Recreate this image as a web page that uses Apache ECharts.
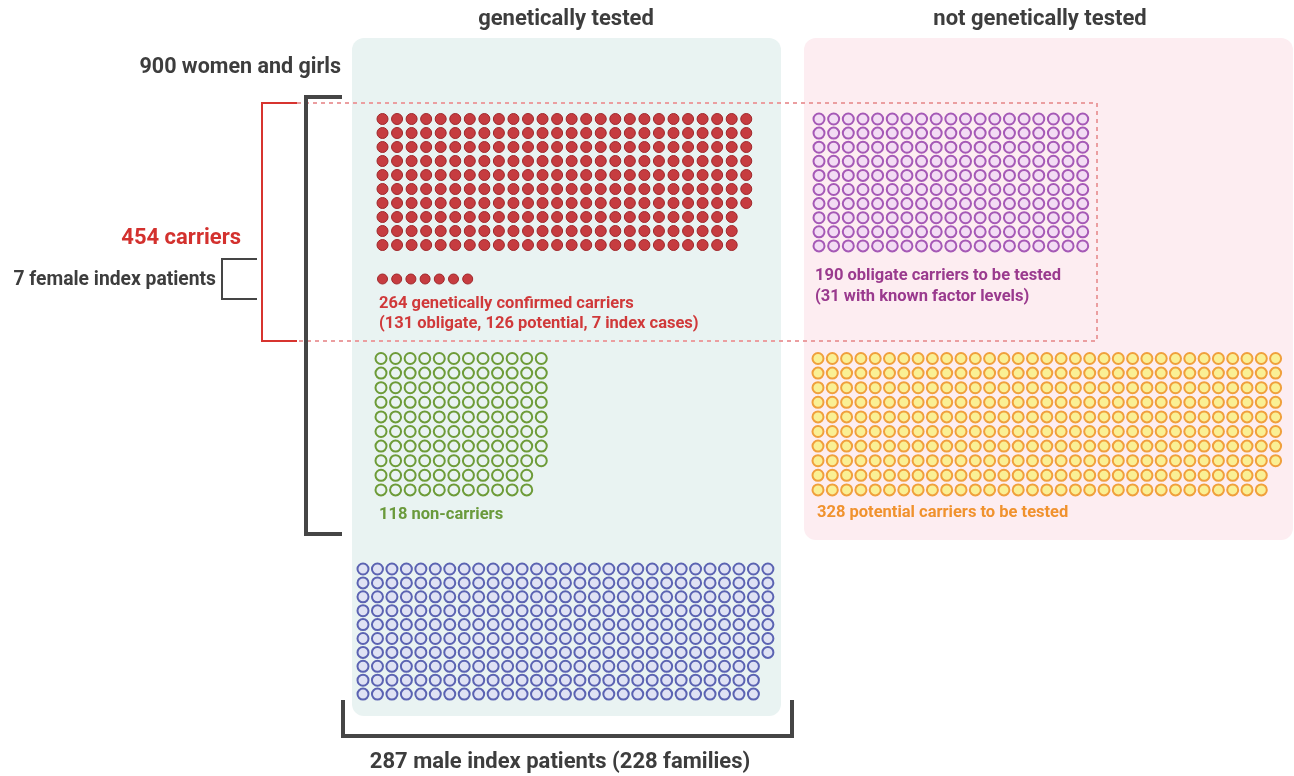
<!DOCTYPE html>
<html>
<head>
<meta charset="utf-8">
<title>Carriers overview</title>
<script src="https://cdn.jsdelivr.net/npm/echarts@6/dist/echarts.min.js"></script>
<style>
  html, body { margin: 0; padding: 0; background: #ffffff; }
  #chart { width: 1294px; height: 776px; }
</style>
</head>
<body>
<div id="chart"></div>
<script>
// Données : une case par personne
const groupNames = ['confirmed', 'femaleIndex', 'obligate', 'nonCarriers', 'potential', 'maleIndex'];
const groupCounts = [257, 7, 190, 118, 328, 287];
const groupRows = [10, 1, 10, 10, 10, 10];

const labelTexts = {
    tested: 'genetically tested',
    notTested: 'not genetically tested',
    women: '900 women and girls',
    carriers: '454 carriers',
    femaleIdx: '7 female index patients',
    confirmed1: '264 genetically confirmed carriers',
    confirmed2: '(131 obligate, 126 potential, 7 index cases)',
    obligate1: '190 obligate carriers to be tested',
    obligate2: '(31 with known factor levels)',
    nonCarriers: '118 non-carriers',
    potential: '328 potential carriers to be tested',
    male: '287 male index patients (228 families)'
};

// Mise en page de chaque bloc (origine du premier point, pas entre points)
const layout = {
    confirmed:   { x: 382.5, y: 119,   dx: 14.55, dy: 14.0, size: 11, fill: '#c63c40', stroke: '#a0272b', bw: 1 },
    femaleIndex: { x: 382.5, y: 279,   dx: 14.2,  dy: 14.0, size: 10, fill: '#c63c40', stroke: '#a0272b', bw: 1 },
    obligate:    { x: 819,   y: 119,   dx: 14.65, dy: 14.1, size: 11, fill: '#f3dcf4', stroke: '#a559b6', bw: 2 },
    nonCarriers: { x: 381,   y: 358.5, dx: 14.57, dy: 14.6, size: 11, fill: '#e9f3f2', stroke: '#6d9b38', bw: 2 },
    potential:   { x: 818,   y: 358.5, dx: 14.3,  dy: 14.6, size: 11, fill: '#faf095', stroke: '#f0a03c', bw: 2 },
    maleIndex:   { x: 363,   y: 569,   dx: 14.46, dy: 13.9, size: 11, fill: '#dfe2f4', stroke: '#5b63b2', bw: 2 }
};

// Répartir n points sur un nombre fixe de lignes (les premières lignes reçoivent le reste)
function buildDots(name, count, rows) {
    const l = layout[name];
    const base = Math.floor(count / rows);
    const extra = count % rows;
    const pts = [];
    for (let r = 0; r < rows; r++) {
        const len = r < extra ? base + 1 : base;
        for (let c = 0; c < len; c++) {
            pts.push([l.x + c * l.dx, l.y + r * l.dy]);
        }
    }
    return pts;
}

const chartDom = document.getElementById('chart');
const chart = echarts.init(chartDom, null, { renderer: 'canvas' });

const FONT = 'Roboto, "Noto Sans", sans-serif';
const DARK = '#3d3d3d';

function txt(text, x, y, opts) {
    return {
        type: 'text',
        x: x,
        y: y,
        z: 50,
        style: Object.assign({
            text: text,
            fontFamily: FONT,
            fontWeight: 'bold',
            fontSize: 16.5,
            fill: DARK,
            textAlign: 'left',
            textVerticalAlign: 'middle'
        }, opts || {})
    };
}

function line(points, color, width, dash) {
    return {
        type: 'polyline',
        z: 20,
        shape: { points: points },
        style: { stroke: color, lineWidth: width, fill: null, lineDash: dash || null }
    };
}

const series = groupNames.map(function (name, i) {
    const l = layout[name];
    return {
        name: name,
        type: 'scatter',
        z: 10,
        silent: true,
        symbol: 'circle',
        symbolSize: l.size,
        itemStyle: { color: l.fill, borderColor: l.stroke, borderWidth: l.bw, opacity: 1 },
        data: buildDots(name, groupCounts[i], groupRows[i])
    };
});

const option = {
    animation: false,
    backgroundColor: '#ffffff',
    grid: { left: 0, right: 0, top: 0, bottom: 0 },
    xAxis: { type: 'value', min: 0, max: 1294, show: false },
    yAxis: { type: 'value', min: 0, max: 776, inverse: true, show: false },
    graphic: [
        // panneaux de fond
        { type: 'rect', z: -10, shape: { x: 352, y: 38, width: 429, height: 678, r: 12 }, style: { fill: '#e9f3f2' } },
        { type: 'rect', z: -10, shape: { x: 804, y: 38, width: 489, height: 502, r: 12 }, style: { fill: '#fdedf1' } },

        // rectangle pointillé des porteurs
        line([[297, 103], [1097, 103], [1097, 341], [297, 341]], '#eb9ea0', 2, [4, 4]),

        // accolade rouge
        line([[297, 103], [262, 103], [262, 341], [297, 341]], '#d7342f', 2),
        // accolade noire (femmes)
        line([[342, 97], [306, 97], [306, 534], [342, 534]], '#454545', 4),
        // petite accolade (index femmes)
        line([[257, 259], [222, 259], [222, 299], [257, 299]], '#454545', 2),
        // accolade du bas (hommes)
        line([[343, 700], [343, 736], [792, 736], [792, 700]], '#454545', 4),

        txt(labelTexts.tested, 566, 19, { fontSize: 22, textAlign: 'center' }),
        txt(labelTexts.notTested, 1040, 19, { fontSize: 22, textAlign: 'center' }),
        txt(labelTexts.women, 341, 68, { fontSize: 21.5, textAlign: 'right' }),
        txt(labelTexts.carriers, 241, 238, { fontSize: 22, textAlign: 'right', fill: '#d3312e' }),
        txt(labelTexts.femaleIdx, 216, 280, { fontSize: 19.3, textAlign: 'right' }),
        txt(labelTexts.confirmed1, 379, 304, { fill: '#d0393a' }),
        txt(labelTexts.confirmed2, 379, 324, { fill: '#d0393a' }),
        txt(labelTexts.obligate1, 815, 276, { fill: '#9a3a8e' }),
        txt(labelTexts.obligate2, 815, 297, { fill: '#9a3a8e' }),
        txt(labelTexts.nonCarriers, 379, 515, { fill: '#6a9a3c' }),
        txt(labelTexts.potential, 817, 513, { fill: '#f0922e' }),
        txt(labelTexts.male, 560, 762, { fontSize: 22, textAlign: 'center' })
    ],
    series: series
};

chart.setOption(option);

window.addEventListener('resize', () => {
    chart.resize();
});
</script>
</body>
</html>
